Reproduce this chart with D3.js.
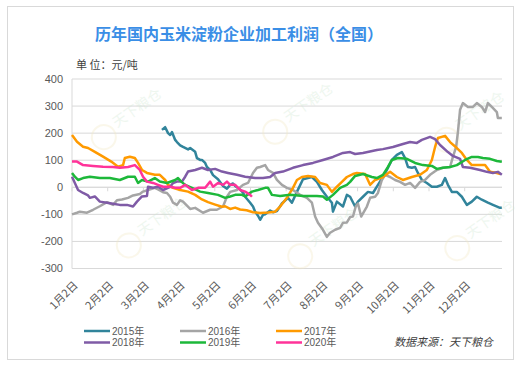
<!DOCTYPE html>
<html>
<head>
<meta charset="utf-8">
<script src="https://cdn.jsdelivr.net/npm/d3@7"></script>
<style>
  body { margin: 0; background: #fff; }
  svg { display: block; font-family: "Liberation Sans", "Noto Sans CJK SC", sans-serif; }
</style>
</head>
<body>
<svg width="529" height="370"></svg>
<script>
// x values are month offsets from Jan 2 (0 = 1月2日, 11 = 12月2日)
const monthLabels = ["1月2日","2月2日","3月2日","4月2日","5月2日","6月2日","7月2日","8月2日","9月2日","10月2日","11月2日","12月2日"];
const yTicks = [-300, -200, -100, 0, 100, 200, 300, 400];
const seriesNames = ["2015年","2016年","2017年","2018年","2019年","2020年"];
const seriesColors = ["#31849b","#a5a5a5","#ff9a00","#7f5ba6","#1db83a","#ff3399"];

const s2015 = [[2.52,212],[2.61,222],[2.69,200],[2.75,193],[2.80,204],[2.89,175],[2.94,167],[3.03,155],[3.11,149],[3.25,140],[3.31,145],[3.45,131],[3.50,108],[3.59,101],[3.64,101],[3.73,90],[3.78,75],[3.87,64],[3.95,45],[4.09,30],[4.23,5],[4.34,-5],[4.43,9],[4.51,14],[4.57,5],[4.71,-8],[4.79,-20],[4.85,-35],[4.99,-57],[5.07,-71],[5.13,-90],[5.21,-105],[5.27,-120],[5.35,-102],[5.41,-100],[5.55,-86],[5.63,-92],[5.74,-88],[5.88,-60],[6.05,-39],[6.16,-57],[6.30,-17],[6.47,30],[6.72,38],[6.86,20],[7.00,-10],[7.14,-35],[7.28,-57],[7.31,-90],[7.42,-53],[7.59,-71],[7.70,-28],[7.79,-35],[7.93,-71],[8.01,-53],[8.15,-35],[8.29,-17],[8.43,-21],[8.57,9],[8.71,38],[8.82,64],[8.96,101],[9.10,120],[9.24,130],[9.33,108],[9.41,75],[9.52,72],[9.61,75],[9.69,53],[9.80,27],[9.94,16],[10.08,2],[10.22,2],[10.36,9],[10.45,34],[10.53,9],[10.64,-17],[10.78,-17],[10.92,-35],[11.06,-65],[11.20,-53],[11.34,-35],[11.48,-46],[11.65,-57],[11.79,-65],[11.99,-76],[12.04,-76]];
const s2016 = [[0,-100],[0.14,-94],[0.22,-90],[0.42,-94],[0.59,-83],[0.78,-70],[0.98,-55],[1.15,-65],[1.26,-48],[1.40,-45],[1.57,-39],[1.71,-30],[1.90,-25],[1.99,-16],[2.13,-10],[2.32,-2],[2.41,-8],[2.55,-18],[2.66,-21],[2.75,-35],[2.83,-57],[2.94,-65],[3.03,-48],[3.11,-53],[3.31,-80],[3.45,-76],[3.67,-94],[3.87,-83],[4.06,-83],[4.23,-71],[4.34,-35],[4.43,-17],[4.62,-10],[4.79,9],[4.93,16],[5.07,53],[5.18,72],[5.27,75],[5.41,82],[5.49,64],[5.63,53],[5.74,27],[5.88,9],[6.02,-2],[6.19,-10],[6.39,-28],[6.58,-39],[6.72,-57],[6.81,-108],[6.89,-131],[7.03,-157],[7.14,-183],[7.23,-168],[7.37,-157],[7.51,-150],[7.59,-131],[7.70,-130],[7.79,-110],[7.87,-108],[7.95,-70],[8.01,-60],[8.10,-108],[8.26,-71],[8.35,-39],[8.49,-35],[8.57,-21],[8.68,27],[8.77,46],[8.91,38],[9.05,27],[9.19,20],[9.33,9],[9.47,16],[9.61,-2],[9.75,20],[9.89,27],[10.03,46],[10.22,64],[10.39,72],[10.59,75],[10.67,112],[10.76,149],[10.81,204],[10.87,286],[10.95,311],[11.09,297],[11.23,297],[11.34,311],[11.48,297],[11.57,278],[11.65,311],[11.76,297],[11.90,278],[11.93,256],[12.04,256]];
const s2017 = [[0,193],[0.14,168],[0.31,150],[0.45,145],[0.64,131],[0.87,113],[1.10,95],[1.29,76],[1.43,82],[1.48,108],[1.62,113],[1.76,108],[1.85,90],[1.96,64],[2.10,53],[2.32,46],[2.46,46],[2.61,27],[2.69,9],[2.83,-2],[3.03,-10],[3.25,-16],[3.45,-28],[3.64,-45],[3.81,-55],[4.01,-64],[4.20,-72],[4.29,-70],[4.43,-80],[4.57,-75],[4.71,-82],[4.89,-85],[5.07,-92],[5.27,-95],[5.49,-93],[5.69,-90],[5.83,-71],[6.02,-39],[6.19,-2],[6.30,27],[6.44,38],[6.61,42],[6.81,38],[6.95,16],[7.14,9],[7.28,-17],[7.42,2],[7.56,20],[7.70,38],[7.87,49],[7.98,53],[8.21,49],[8.35,9],[8.49,27],[8.71,38],[8.91,57],[9.10,38],[9.27,27],[9.52,38],[9.75,46],[9.94,64],[10.08,101],[10.17,149],[10.25,182],[10.45,190],[10.59,167],[10.78,145],[10.92,127],[11.06,101],[11.20,82],[11.37,82],[11.57,82],[11.71,57],[11.90,53],[12.0,49]];
const s2018 = [[0,39],[0.08,16],[0.17,-10],[0.31,-21],[0.45,-30],[0.50,-39],[0.64,-34],[0.78,-53],[0.98,-57],[1.15,-61],[1.34,-65],[1.54,-65],[1.71,-71],[1.82,-53],[1.96,-34],[2.10,-32],[2.13,2],[2.27,-2],[2.41,2],[2.55,-10],[2.75,2],[2.83,16],[2.94,21],[3.08,21],[3.17,39],[3.25,58],[3.45,64],[3.64,72],[3.81,64],[4.01,68],[4.20,58],[4.37,53],[4.62,46],[4.85,39],[5.13,34],[5.35,34],[5.55,38],[5.69,53],[5.91,58],[6.19,72],[6.47,82],[6.75,90],[7.03,101],[7.31,112],[7.59,127],[7.79,130],[7.93,123],[8.15,127],[8.54,138],[8.71,141],[8.99,149],[9.27,160],[9.47,167],[9.66,164],[9.80,175],[10.03,186],[10.17,178],[10.31,156],[10.53,130],[10.67,116],[10.87,105],[10.95,75],[11.15,72],[11.43,64],[11.62,57],[11.79,53],[11.93,57],[12.04,46]];
const s2019 = [[0,53],[0.08,39],[0.17,27],[0.31,34],[0.50,39],[0.78,34],[1.06,34],[1.34,27],[1.57,39],[1.76,39],[1.85,16],[1.96,27],[2.13,21],[2.32,34],[2.46,21],[2.66,16],[2.89,27],[2.97,34],[3.06,21],[3.17,9],[3.36,-2],[3.59,-16],[3.81,-21],[4.09,-28],[4.29,-39],[4.43,-34],[4.57,-28],[4.76,-28],[4.85,-34],[5.04,-16],[5.21,-10],[5.41,-2],[5.49,-2],[5.60,-28],[5.83,-32],[6.11,-28],[6.47,-32],[6.86,-32],[7.03,-34],[7.14,-46],[7.31,-28],[7.51,-2],[7.70,9],[7.79,20],[7.93,42],[8.15,49],[8.40,38],[8.54,34],[8.71,46],[8.85,75],[8.96,101],[9.13,108],[9.38,105],[9.61,90],[9.83,82],[10.08,79],[10.22,68],[10.39,72],[10.59,75],[10.78,82],[11.01,101],[11.20,112],[11.37,112],[11.51,108],[11.71,105],[11.90,97],[12.04,94]];
const s2020 = [[0,95],[0.14,95],[0.31,82],[0.59,79],[0.87,76],[1.15,75],[1.34,72],[1.57,75],[1.76,82],[1.90,64],[1.99,39],[2.10,21],[2.27,16],[2.41,9],[2.55,2],[2.75,2],[2.89,-2],[3.03,-2],[3.17,9],[3.36,-10],[3.53,-2],[3.73,-2],[3.87,21],[3.95,2],[4.09,16],[4.23,9],[4.34,21],[4.43,9],[4.57,9],[4.71,-10],[4.85,-16],[4.99,-28],[5.04,-35]];
const seriesData = [s2015, s2016, s2017, s2018, s2019, s2020];

// faint watermark spots, in data units [month, value]
const watermarks = [[1.3, 250], [6.1, 270], [10.9, 240], [2.0, -150], [6.8, -190], [11.2, -160]];

const svg = d3.select("svg");
const plotLeft = 72, plotRight = 502, plotTop = 79, plotBottom = 268.5;

const x = d3.scaleLinear().domain([0, 12]).range([plotLeft, plotLeft + 12 * 35.7]);
const y = d3.scaleLinear().domain([-300, 400]).range([plotBottom, plotTop]);

// outer frame
svg.append("rect")
   .attr("x", 7.5).attr("y", 6.5)
   .attr("width", 506).attr("height", 353)
   .attr("fill", "#fff")
   .attr("stroke", "#d9d9d9");

// title
svg.append("text")
   .attr("x", 239).attr("y", 40)
   .attr("text-anchor", "middle")
   .attr("fill", "#3a8ee6")
   .style("font-size", "16px")
   .style("font-weight", "bold")
   .style("font-family", "Noto Sans CJK SC")
   .text("历年国内玉米淀粉企业加工利润（全国）");

svg.append("text")
   .attr("x", 76).attr("y", 69)
   .attr("fill", "#404040")
   .style("font-size", "11px")
   .style("font-family", "Noto Sans CJK SC")
   .text("单 位：元/吨");

// gridlines
svg.append("g")
   .selectAll("line")
   .data(yTicks)
   .join("line")
   .attr("x1", plotLeft).attr("x2", plotRight)
   .attr("y1", d => y(d)).attr("y2", d => y(d))
   .attr("stroke", "#d9d9d9")
   .attr("stroke-width", 1);

// watermark (very faint)
const wm = svg.append("g")
              .selectAll("g")
              .data(watermarks)
              .join("g")
              .attr("transform", d => `translate(${x(d[0])},${y(d[1])}) rotate(-35)`)
              .attr("opacity", 0.35);
wm.append("circle")
  .attr("cx", -22).attr("cy", 6).attr("r", 12)
  .attr("fill", "none")
  .attr("stroke", "#f3e9c6")
  .attr("stroke-width", 2);
wm.append("text")
  .attr("x", -6).attr("y", 6)
  .attr("fill", "#cfe8d2")
  .style("font-size", "14px")
  .style("font-family", "Noto Sans CJK SC")
  .text("天下粮仓");

// y axis line
svg.append("line")
   .attr("x1", plotLeft).attr("x2", plotLeft)
   .attr("y1", plotTop).attr("y2", plotBottom)
   .attr("stroke", "#d9d9d9");

// y labels
svg.append("g")
   .selectAll("text")
   .data(yTicks)
   .join("text")
   .attr("x", 63).attr("y", d => y(d))
   .attr("dy", "0.35em")
   .attr("text-anchor", "end")
   .attr("fill", "#595959")
   .style("font-size", "11px")
   .text(d => d);

// category axis on the zero line
svg.append("line")
   .attr("x1", plotLeft).attr("x2", plotRight)
   .attr("y1", y(0)).attr("y2", y(0))
   .attr("stroke", "#d9d9d9");
svg.append("g")
   .selectAll("line")
   .data(monthLabels)
   .join("line")
   .attr("x1", (d, i) => x(i)).attr("x2", (d, i) => x(i))
   .attr("y1", y(0)).attr("y2", y(0) + 4)
   .attr("stroke", "#d9d9d9");

// x labels, rotated
svg.append("g")
   .selectAll("text")
   .data(monthLabels)
   .join("text")
   .attr("transform", (d, i) => `translate(${x(i) + 1},${plotBottom + 12}) rotate(-45)`)
   .attr("text-anchor", "end")
   .attr("dy", "0.7em")
   .attr("fill", "#595959")
   .style("font-size", "11px")
   .style("font-family", "Noto Sans CJK SC")
   .text(d => d);

// lines
const line = d3.line()
               .x(d => x(d[0]))
               .y(d => y(d[1]));

svg.append("g")
   .selectAll("path")
   .data(seriesData)
   .join("path")
   .attr("d", line)
   .attr("fill", "none")
   .attr("stroke", (d, i) => seriesColors[i])
   .attr("stroke-width", 2.5)
   .attr("stroke-linejoin", "round");

// legend
const legend = svg.append("g")
                  .selectAll("g")
                  .data(seriesNames)
                  .join("g")
                  .attr("transform", (d, i) => `translate(${84 + (i % 3) * 96},${331 + Math.floor(i / 3) * 11.5})`);
legend.append("line")
      .attr("x1", 0).attr("x2", 26)
      .attr("stroke", (d, i) => seriesColors[i])
      .attr("stroke-width", 2.5);
legend.append("text")
      .attr("x", 28).attr("dy", "0.35em")
      .attr("fill", "#595959")
      .style("font-size", "10px")
      .text(d => d);

// source note
svg.append("text")
   .attr("x", 493).attr("y", 346)
   .attr("text-anchor", "end")
   .attr("fill", "#404040")
   .style("font-size", "11px")
   .style("font-style", "italic")
   .style("font-family", "Noto Sans CJK SC")
   .text("数据来源：天下粮仓");
</script>
</body>
</html>
